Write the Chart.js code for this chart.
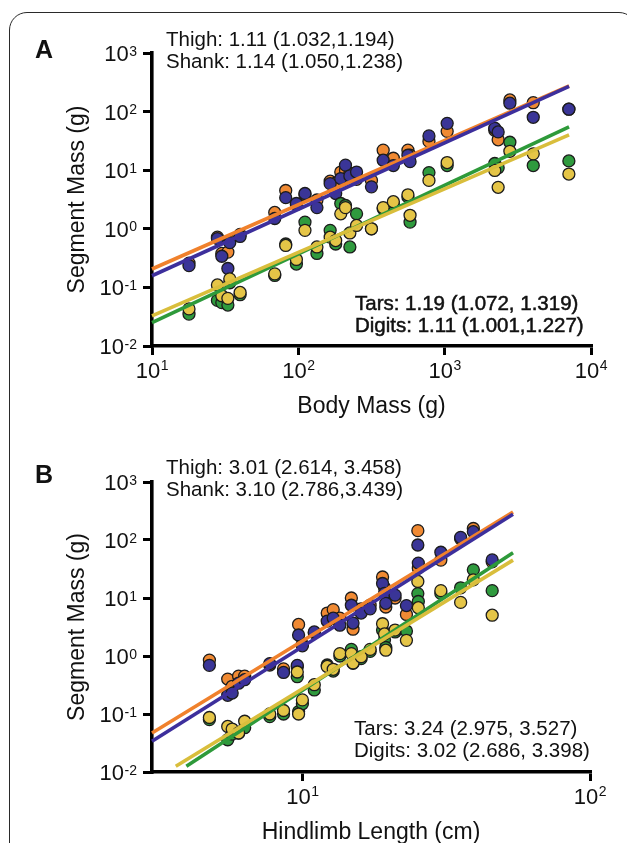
<!DOCTYPE html>
<html>
<head>
<meta charset="utf-8">
<script src="https://cdn.jsdelivr.net/npm/chart.js@4/dist/chart.umd.min.js"></script>
<style>
  html, body { margin: 0; padding: 0; background: #fff; width: 627px; height: 843px; overflow: hidden; }
  body { position: relative; font-family: "Liberation Sans", Arial, Helvetica, sans-serif; }
  #frame { position: absolute; left: 9px; top: 12px; width: 628px; height: 900px; border: 1.6px solid #2a2a2a; border-radius: 18px; box-sizing: border-box; }
  canvas { position: absolute; left: 0; }
  #cA { top: 0; }
  #cB { top: 429px; }
  .t { position: absolute; white-space: nowrap; color: #111; }
</style>
</head>
<body>
<div id="frame"></div>
<canvas id="cA" width="627" height="430"></canvas>
<canvas id="cB" width="627" height="430"></canvas>
<script>
// ---------------- Panel A: segment mass vs body mass (g) ----------------
const aBodyMass = [17.9, 28, 30, 33, 34, 40, 69, 82, 97, 111, 134, 165, 180, 195, 210, 225, 250, 316, 380, 446, 561, 580, 781, 1040, 2200, 2320, 2790, 4030, 7060];
const aThigh  = [0.26, 0.72, 0.38, 0.40, 0.62, 0.80, 1.9, 4.5, 2.6, 3.8, 3.1, 6.5, 6.0, 9.3, 10, 8.8, 7.0, 6.7, 22, 16, 22, 18, 31, 46, 48, 33, 158, 142, 110];
const aShank  = [0.235, 0.68, 0.34, 0.21, 0.58, 0.74, 1.5, 3.4, 2.7, 4.0, 2.3, 5.9, 4.0, 7.2, 12.2, 8.0, 9.3, 5.2, 14.8, 12, 18, 14, 38.5, 63, 52, 45, 139, 80, 110];
const aTars   = [0.035, 0.06, 0.055, 0.05, 0.12, 0.075, 0.16, 0.55, 0.25, 1.3, 0.38, 0.94, 0.55, 2.7, 2.5, 0.49, 1.8, 1.0, 2.2, 2.6, 3.5, 1.3, 9.1, 12, 13, 11, 30, 12, 14.4];
const aDigits = [0.043, 0.11, 0.072, 0.065, 0.14, 0.082, 0.17, 0.52, 0.30, 0.94, 0.49, 0.72, 0.63, 1.8, 2.3, 0.85, 1.14, 1.0, 2.3, 2.9, 3.8, 1.7, 6.7, 13.5, 9.9, 5.1, 21, 19, 8.6];
// fitted lines (end points)
const aFitX      = [10, 7080];
const aThighFit  = [0.206, 275];
const aShankFit  = [0.158, 270];
const aTarsFit   = [0.025, 55];
const aDigitsFit = [0.0327, 40];

// ---------------- Panel B: segment mass vs hindlimb length (cm) ----------------
const bHindlimb = [4.75, 5.5, 5.7, 6.0, 6.3, 7.7, 8.6, 9.6, 9.7, 10.0, 11.0, 12.2, 12.8, 13.5, 14.8, 15.0, 16.0, 17.2, 19.0, 19.3, 19.5, 21, 23, 25.2, 25.3, 30.3, 35.5, 39.3, 45.7];
const bThigh  = [0.85, 0.40, 0.30, 0.45, 0.45, 0.70, 0.60, 0.65, 3.5, 1.6, 2.5, 5.5, 6.3, 4.5, 10, 2.9, 6.5, 7.5, 23, 15, 7, 10, 5.2, 145, 32.7, 45, 105, 158, 42];
const bShank  = [0.69, 0.21, 0.23, 0.34, 0.39, 0.74, 0.52, 0.69, 2.3, 1.5, 2.6, 4.0, 4.5, 3.4, 7.5, 3.7, 5.5, 6.5, 17.8, 12, 8.1, 11.2, 7.4, 82, 40, 61.5, 111, 139, 45.4];
const bTars   = [0.08, 0.036, 0.045, 0.047, 0.058, 0.09, 0.10, 0.44, 0.11, 0.15, 0.26, 0.70, 0.55, 1.0, 1.3, 0.75, 0.9, 1.2, 2.8, 1.9, 1.4, 2.6, 2.7, 11.9, 8.7, 12, 15, 30.6, 13.4];
const bDigits = [0.087, 0.061, 0.055, 0.047, 0.075, 0.10, 0.115, 0.53, 0.10, 0.175, 0.32, 0.66, 0.59, 1.1, 1.1, 0.76, 0.97, 1.3, 3.6, 2.4, 1.26, 2.8, 1.86, 19.3, 6.8, 13.4, 8.4, 20.6, 5.05];
const bThighFitX  = [3, 54];
const bThighFit   = [0.047, 305];
const bShankFitX  = [3, 54];
const bShankFit   = [0.034, 277];
const bTarsFitX   = [3.95, 54];
const bTarsFit    = [0.0126, 60];
const bDigitsFitX = [3.63, 54];
const bDigitsFit  = [0.0126, 45];

// ---------------- ticks ----------------
const yTicks   = [0.01, 0.1, 1, 10, 100, 1000];
const yTickExp = ['-2', '-1', '0', '1', '2', '3'];
const aXTicks   = [10, 100, 1000, 10000];
const aXTickExp = ['1', '2', '3', '4'];
const bXTicks   = [10, 100];
const bXTickExp = ['1', '2'];

// ---------------- styling ----------------
const FONT = '"Liberation Sans", Arial, Helvetica, sans-serif';
const COL = {
  thighPt: '#F08A33', shankPt: '#3A3597', tarsPt: '#2F9A3E', digitsPt: '#E5C547',
  thighLn: '#F0812C', shankLn: '#3D2F9C', tarsLn: '#2E9A3A', digitsLn: '#D9BE3C'
};

function pts(xs, ys) { return xs.map((x, i) => ({ x: x, y: ys[i] })); }

function scatterDs(xs, ys, color, order) {
  return { type: 'scatter', data: pts(xs, ys), backgroundColor: color, borderColor: '#1c1c1c',
           borderWidth: 1.3, pointRadius: 6, pointHoverRadius: 6, order: order, clip: false };
}
function lineDs(xs, ys, color, order) {
  return { type: 'line', data: pts(xs, ys), borderColor: color, backgroundColor: color,
           borderWidth: 3.6, pointRadius: 0, showLine: true, fill: false, tension: 0, order: order, clip: false };
}

function supTickPlugin(xTicks, xExps) {
  return {
    id: 'supTicks',
    afterDraw(chart) {
      const ctx = chart.ctx, xs = chart.scales.x, ys = chart.scales.y, ca = chart.chartArea;
      const base = '22px ' + FONT, sup = '14px ' + FONT;
      ctx.save();
      ctx.fillStyle = '#111';
      ctx.textBaseline = 'alphabetic';
      yTicks.forEach((v, i) => {
        const y = ys.getPixelForValue(v);
        ctx.font = sup; const we = ctx.measureText(yTickExp[i]).width;
        ctx.font = base; const wb = ctx.measureText('10').width;
        const right = ca.left - 15;
        ctx.font = base; ctx.fillText('10', right - we - wb - 0.5, y + 8);
        ctx.font = sup; ctx.fillText(yTickExp[i], right - we, y + 2.5);
      });
      xTicks.forEach((v, i) => {
        const x = xs.getPixelForValue(v);
        ctx.font = sup; const we = ctx.measureText(xExps[i]).width;
        ctx.font = base; const wb = ctx.measureText('10').width;
        const start = x - (wb + we) / 2;
        ctx.font = base; ctx.fillText('10', start, ca.bottom + 32);
        ctx.font = sup; ctx.fillText(xExps[i], start + wb + 0.5, ca.bottom + 24);
      });
      ctx.restore();
    }
  };
}

function axisCommon() {
  return {
    type: 'logarithmic',
    ticks: { display: false },
    grid: { display: true, drawOnChartArea: false, drawTicks: true, tickLength: 9, tickWidth: 3,
            tickColor: '#000', color: '#000', lineWidth: 3 },
    border: { display: true, color: '#000', width: 3.6 }
  };
}

function makeChart(canvasId, cfg) {
  const xAxis = Object.assign(axisCommon(), {
    min: cfg.xMin, max: cfg.xMax,
    afterBuildTicks: s => { s.ticks = cfg.xTicks.map(v => ({ value: v })); },
    afterFit: s => { s.height = cfg.xHeight; },
    title: { display: true, text: cfg.xTitle, color: '#111', font: { size: 23, family: FONT },
             padding: { top: 0, bottom: cfg.xTitlePad } }
  });
  const yAxis = Object.assign(axisCommon(), {
    min: 0.01, max: 1000,
    afterBuildTicks: s => { s.ticks = yTicks.map(v => ({ value: v })); },
    afterFit: s => { s.width = 152; },
    title: { display: true, text: 'Segment Mass (g)', color: '#111', font: { size: 23, family: FONT },
             padding: { top: 63.5, bottom: 0 } }
  });
  return new Chart(document.getElementById(canvasId), {
    type: 'scatter',
    data: { datasets: cfg.datasets },
    options: {
      responsive: false, animation: false, devicePixelRatio: 1,
      layout: { autoPadding: false, padding: { left: 0, top: 53, right: cfg.rightPad, bottom: 0 } },
      plugins: { legend: { display: false }, tooltip: { enabled: false }, title: { display: false } },
      events: [],
      scales: { x: xAxis, y: yAxis }
    },
    plugins: [supTickPlugin(cfg.xTicks, cfg.xExps)]
  });
}

makeChart('cA', {
  xMin: 10, xMax: 10000, xTicks: aXTicks, xExps: aXTickExp, xHeight: 84, rightPad: 36,
  xTitle: 'Body Mass (g)', xTitlePad: 9.2,
  datasets: [
    scatterDs(aBodyMass, aThigh, COL.thighPt, 8),
    scatterDs(aBodyMass, aShank, COL.shankPt, 7),
    scatterDs(aBodyMass, aTars, COL.tarsPt, 6),
    scatterDs(aBodyMass, aDigits, COL.digitsPt, 5),
    lineDs(aFitX, aThighFit, COL.thighLn, 4),
    lineDs(aFitX, aShankFit, COL.shankLn, 3),
    lineDs(aFitX, aTarsFit, COL.tarsLn, 2),
    lineDs(aFitX, aDigitsFit, COL.digitsLn, 1)
  ]
});

makeChart('cB', {
  xMin: 3, xMax: 100, xTicks: bXTicks, xExps: bXTickExp, xHeight: 87, rightPad: 37,
  xTitle: 'Hindlimb Length (cm)', xTitlePad: 12.2,
  datasets: [
    scatterDs(bHindlimb, bThigh, COL.thighPt, 8),
    scatterDs(bHindlimb, bShank, COL.shankPt, 7),
    scatterDs(bHindlimb, bTars, COL.tarsPt, 6),
    scatterDs(bHindlimb, bDigits, COL.digitsPt, 5),
    lineDs(bThighFitX, bThighFit, COL.thighLn, 4),
    lineDs(bShankFitX, bShankFit, COL.shankLn, 3),
    lineDs(bTarsFitX, bTarsFit, COL.tarsLn, 2),
    lineDs(bDigitsFitX, bDigitsFit, COL.digitsLn, 1)
  ]
});

// ---------------- annotations (HTML text placed by baseline) ----------------
function label(text, x, baseline, size, weight, stroke) {
  const d = document.createElement('div');
  d.className = 't';
  d.textContent = text;
  d.style.fontSize = size + 'px';
  d.style.lineHeight = size + 'px';
  d.style.fontWeight = weight || 'normal';
  d.style.left = x + 'px';
  d.style.top = (baseline - 0.8465 * size) + 'px';
  if (stroke) d.style.webkitTextStroke = stroke + 'px #111';
  document.body.appendChild(d);
}
label('A', 35, 58, 25, 'bold');
label('Thigh: 1.11 (1.032,1.194)', 166, 46, 20.5);
label('Shank: 1.14 (1.050,1.238)', 166, 68, 20.5);
label('Tars: 1.19 (1.072, 1.319)', 355, 310, 20.5, 'normal', 0.5);
label('Digits: 1.11 (1.001,1.227)', 355, 332, 20.5, 'normal', 0.5);
label('B', 35, 483, 25, 'bold');
label('Thigh: 3.01 (2.614, 3.458)', 166, 474, 20.5);
label('Shank: 3.10 (2.786,3.439)', 166, 496, 20.5);
label('Tars: 3.24 (2.975, 3.527)', 354, 735, 20.5);
label('Digits: 3.02 (2.686, 3.398)', 354, 757, 20.5);
</script>
</body>
</html>
